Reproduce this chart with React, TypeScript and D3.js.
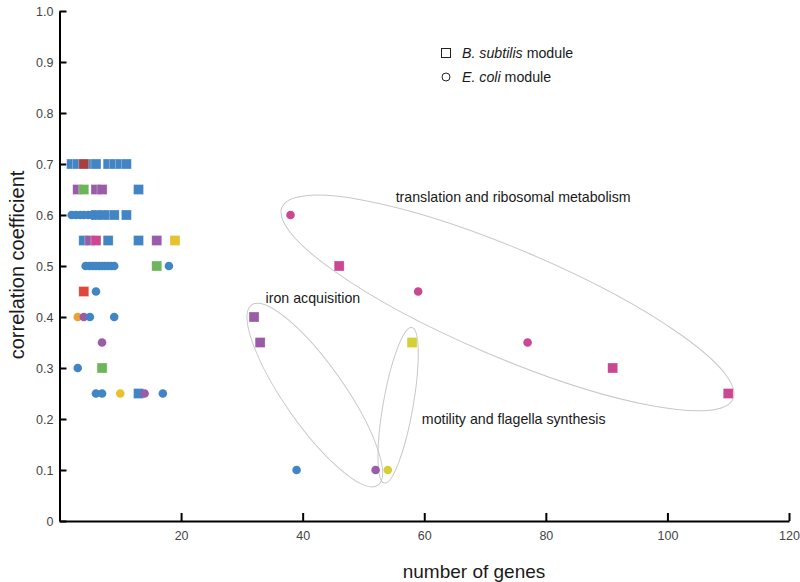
import React, { useEffect, useRef } from "react";
import * as d3 from "d3";

// B. subtilis modules (squares)
const squareGenes = [2, 3, 5, 6, 8, 9, 10, 11, 4, 3, 4, 6, 7, 13, 6, 7, 8, 9, 11, 4, 5, 6, 8, 13, 16, 19, 16, 4, 7, 13, 46, 32, 33, 58, 91, 110];
const squareCorr = [0.7, 0.7, 0.7, 0.7, 0.7, 0.7, 0.7, 0.7, 0.7, 0.65, 0.65, 0.65, 0.65, 0.65, 0.6, 0.6, 0.6, 0.6, 0.6, 0.55, 0.55, 0.55, 0.55, 0.55, 0.55, 0.55, 0.5, 0.45, 0.3, 0.25, 0.5, 0.4, 0.35, 0.35, 0.3, 0.25];
const squareGroup = ["blue", "blue", "blue", "blue", "blue", "blue", "blue", "blue", "darkred", "purple", "green", "purple", "purple", "blue", "blue", "blue", "blue", "blue", "blue", "blue", "purple", "magenta", "blue", "blue", "purple", "yellow", "green", "red", "green", "blue", "magenta", "purple", "purple", "olive", "magenta", "magenta"];

// E. coli modules (circles)
const circleGenes = [2, 2.7, 3.4, 4, 4.7, 5.3, 6, 6.5, 7, 7.5, 4.3, 5, 5.5, 6, 6.5, 7, 7.5, 8, 8.5, 9, 18, 6, 3, 4, 5, 9, 7, 3, 6, 7, 10, 14, 17, 38, 59, 77, 39, 52, 54];
const circleCorr = [0.6, 0.6, 0.6, 0.6, 0.6, 0.6, 0.6, 0.6, 0.6, 0.6, 0.5, 0.5, 0.5, 0.5, 0.5, 0.5, 0.5, 0.5, 0.5, 0.5, 0.5, 0.45, 0.4, 0.4, 0.4, 0.4, 0.35, 0.3, 0.25, 0.25, 0.25, 0.25, 0.25, 0.6, 0.45, 0.35, 0.1, 0.1, 0.1];
const circleGroup = ["blue", "blue", "blue", "blue", "blue", "blue", "blue", "blue", "blue", "blue", "blue", "blue", "blue", "blue", "blue", "blue", "blue", "blue", "blue", "blue", "blue", "blue", "orange", "purple", "blue", "blue", "purple", "blue", "blue", "blue", "yellow", "purple", "blue", "magenta", "magenta", "magenta", "blue", "purple", "olive"];

const xTicks = [20, 40, 60, 80, 100, 120];
const yTicks = [0, 0.1, 0.2, 0.3, 0.4, 0.5, 0.6, 0.7, 0.8, 0.9, 1.0];

// annotation groups: label, ellipse centre in data units
const groupLabels = ["translation and ribosomal metabolism", "iron acquisition", "motility and flagella synthesis"];
const groupCentreGenes = [73.7, 42.0, 55.7];
const groupCentreCorr = [0.4275, 0.247, 0.227];
const groupLabelGenes = [55.3, 33.9, 59.6];
const groupLabelCorr = [0.625, 0.428, 0.190];

const colors: Record<string, string> = {
    blue: "#4185c5",
    darkred: "#a5403e",
    red: "#e0473c",
    purple: "#9a5ba8",
    green: "#6db55a",
    yellow: "#e8c22c",
    orange: "#eba13a",
    magenta: "#cc4792",
    olive: "#d3cf34"
};

const FONT = "Liberation Sans, Arial, sans-serif";

export default function App() {
    const ref = useRef<SVGSVGElement>(null);

    useEffect(() => {
        const svg = d3.select(ref.current);
        svg.selectAll("*").remove();

        const x = d3.scaleLinear().domain([0, 120]).range([59.5, 789]);
        const y = d3.scaleLinear().domain([0, 1]).range([521, 11]);

        // ellipse sizes (px) and rotations
        const ell = [
            { rx: 245, ry: 54, rot: 23 },
            { rx: 110, ry: 30, rot: 55 },
            { rx: 79, ry: 15, rot: -80 }
        ];

        const notes = svg.append("g");
        groupLabels.forEach((label, i) => {
            const cx = x(groupCentreGenes[i]);
            const cy = y(groupCentreCorr[i]);
            notes.append("ellipse")
                .attr("cx", 0).attr("cy", 0)
                .attr("rx", ell[i].rx).attr("ry", ell[i].ry)
                .attr("transform", `translate(${cx},${cy}) rotate(${ell[i].rot})`)
                .attr("fill", "none")
                .attr("stroke", "#c8c8c8")
                .attr("stroke-width", 1);
            notes.append("text")
                .attr("x", x(groupLabelGenes[i]))
                .attr("y", y(groupLabelCorr[i]))
                .attr("font-family", FONT)
                .attr("font-size", 14.2)
                .attr("fill", "#1a1a1a")
                .text(label);
        });

        // axes
        const yAxis = svg.append("g")
            .attr("transform", `translate(${x(0)},0)`)
            .call(d3.axisLeft(y).tickValues(yTicks).tickSizeInner(-7).tickSizeOuter(0).tickPadding(6)
                .tickFormat((d: any) => (d === 0 ? "0" : d3.format(".1f")(d))));
        const xAxis = svg.append("g")
            .attr("transform", `translate(0,${y(0)})`)
            .call(d3.axisBottom(x).tickValues(xTicks).tickSizeInner(-8).tickSizeOuter(0).tickPadding(10));

        [xAxis, yAxis].forEach(g => {
            g.select(".domain").attr("stroke", "#000").attr("stroke-width", 2);
            g.selectAll(".tick line").attr("stroke", "#000").attr("stroke-width", 2);
            g.selectAll(".tick text")
                .attr("font-family", FONT)
                .attr("font-size", 12.5)
                .attr("fill", "#444");
        });

        const s = 10;
        svg.append("g").selectAll("rect")
            .data(squareGenes.map((g, i) => ({ g, c: squareCorr[i], k: squareGroup[i] })))
            .enter()
            .append("rect")
            .attr("x", d => x(d.g) - s / 2)
            .attr("y", d => y(d.c) - s / 2)
            .attr("width", s)
            .attr("height", s)
            .attr("fill", d => colors[d.k])
            .attr("stroke", "#fff")
            .attr("stroke-opacity", 0.5)
            .attr("stroke-width", 0.6);

        svg.append("g").selectAll("circle")
            .data(circleGenes.map((g, i) => ({ g, c: circleCorr[i], k: circleGroup[i] })))
            .enter()
            .append("circle")
            .attr("cx", d => x(d.g))
            .attr("cy", d => y(d.c))
            .attr("r", 4.3)
            .attr("fill", d => colors[d.k]);

        // legend
        const legend = svg.append("g")
            .attr("font-family", FONT)
            .attr("font-size", 14.2)
            .attr("fill", "#1a1a1a");
        legend.append("rect")
            .attr("x", 441.5).attr("y", 48.5).attr("width", 9).attr("height", 9)
            .attr("fill", "none").attr("stroke", "#222").attr("stroke-width", 1);
        const t1 = legend.append("text").attr("x", 462).attr("y", 58);
        t1.append("tspan").attr("font-style", "italic").text("B. subtilis");
        t1.append("tspan").text(" module");
        legend.append("circle")
            .attr("cx", 446).attr("cy", 77).attr("r", 4)
            .attr("fill", "none").attr("stroke", "#222").attr("stroke-width", 1);
        const t2 = legend.append("text").attr("x", 462).attr("y", 82);
        t2.append("tspan").attr("font-style", "italic").text("E. coli");
        t2.append("tspan").text(" module");

        // axis titles
        svg.append("text")
            .attr("transform", "translate(24,265) rotate(-90)")
            .attr("text-anchor", "middle")
            .attr("font-family", FONT)
            .attr("font-size", 20)
            .attr("fill", "#1a1a1a")
            .text("correlation coefficient");
        svg.append("text")
            .attr("x", 474).attr("y", 578)
            .attr("text-anchor", "middle")
            .attr("font-family", FONT)
            .attr("font-size", 19)
            .attr("fill", "#1a1a1a")
            .text("number of genes");
    }, []);

    return (
        <svg ref={ref} width={800} height={582}
            style={{ position: "absolute", left: 0, top: 0, background: "#fff" }} />
    );
}
